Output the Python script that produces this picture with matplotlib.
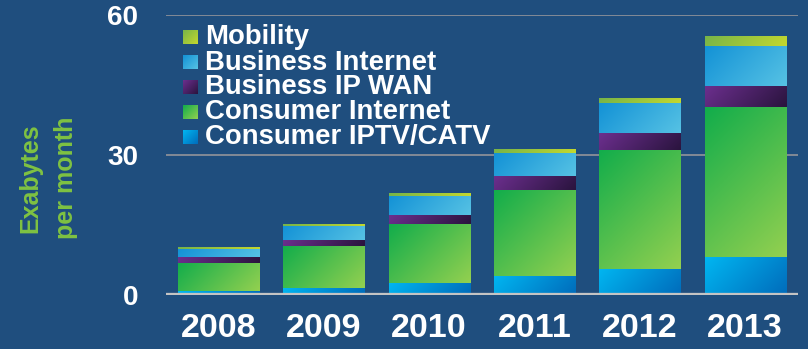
import numpy as np
import matplotlib
matplotlib.use("Agg")
import matplotlib.pyplot as plt
from matplotlib.colors import LinearSegmentedColormap

# Monthly IP traffic by segment, exabytes per month
years = ['2008', '2009', '2010', '2011', '2012', '2013']
consumer_iptv = [0.9, 1.5, 2.6, 4.1, 5.6, 8.1]
consumer_internet = [6.1, 9.0, 12.6, 18.4, 25.5, 32.1]
business_ip_wan = [1.1, 1.3, 1.9, 3.0, 3.6, 4.5]
business_internet = [1.9, 3.0, 4.1, 4.9, 6.4, 8.6]
mobility = [0.4, 0.4, 0.45, 0.65, 1.05, 2.1]

# stacking order bottom -> top
series = [
    ('Consumer IPTV/CATV', consumer_iptv, ('#00b6f1', '#006cbb')),
    ('Consumer Internet', consumer_internet, ('#12ad4b', '#93d050')),
    ('Business IP WAN', business_ip_wan, ('#6c2f8e', '#2a143e')),
    ('Business Internet', business_internet, ('#1392d6', '#56c2e4')),
    ('Mobility', mobility, ('#77b449', '#c4d82e')),
]

bg = '#1f4e7e'
plt.rcParams['font.family'] = ['Liberation Sans', 'DejaVu Sans']
plt.rcParams['font.weight'] = 'bold'

fig = plt.figure(figsize=(8.08, 3.49), dpi=100, facecolor=bg)
ax = fig.add_axes([165.8 / 808, (349 - 295.3) / 349, 632 / 808, 280.3 / 349])
ax.set_facecolor(bg)
x = np.arange(len(years))
ax.set_xlim(-0.5, len(years) - 0.5)
ax.set_ylim(0, 60)
ax.set_autoscale_on(False)


def gradient(ax, x0, y0, w, h, c0, c1, transform=None, z=2):
    # diagonal fill, top-left -> bottom-right, measured in screen pixels
    tr = ax.transData if transform is None else transform
    p0 = tr.transform((x0, y0))
    p1 = tr.transform((x0 + w, y0 + h))
    wpx, hpx = abs(p1[0] - p0[0]), abs(p1[1] - p0[1])
    u = np.linspace(0, 1, 64)
    v = np.linspace(0, 1, 64)
    t = (u[None, :] * wpx + v[:, None] * hpx) / (wpx + hpx)
    cmap = LinearSegmentedColormap.from_list('g', [c0, c1])
    kw = {} if transform is None else {'transform': transform}
    ax.imshow(t, extent=[x0, x0 + w, y0, y0 + h], origin='upper', cmap=cmap,
              vmin=0, vmax=1, aspect='auto', interpolation='bilinear',
              zorder=z, **kw)


bottom = np.zeros(len(years))
for name, vals, (c0, c1) in series:
    bars = ax.bar(x, vals, width=0.77, bottom=bottom, color='none',
                  edgecolor='none', zorder=2)
    for b in bars:
        gradient(ax, b.get_x(), b.get_y(), b.get_width(), b.get_height(), c0, c1)
    bottom += np.array(vals)

ax.set_xlim(-0.5, len(years) - 0.5)
ax.set_ylim(0, 60)

# grid and base line
for yv in [30, 60]:
    ax.axhline(yv, color='#8a8f98', lw=1.3, zorder=1)
ax.axhline(0, color='#c4c4c4', lw=3.8, zorder=5)

for s in ax.spines.values():
    s.set_visible(False)
ax.set_xticks(x)
ax.set_xticklabels(years)
ax.set_yticks([0, 30, 60])
ax.tick_params(axis='x', length=0, pad=13, labelsize=24.5, labelcolor='white')
ax.tick_params(axis='y', length=0, pad=20, labelsize=20, labelcolor='white')
for lab in ax.get_xticklabels() + ax.get_yticklabels():
    lab.set_fontweight('bold')

# axis title, two centred lines
green = '#7fc242'
fig.text(30 / 808, 1 - 178 / 349, 'Exabytes', rotation=90, ha='center',
         va='center', fontsize=18, fontweight='bold', color=green)
fig.text(66 / 808, 1 - 178 / 349, 'per month', rotation=90, ha='center',
         va='center', fontsize=18, fontweight='bold', color=green)

# legend, top entry first
ys = [0.920, 0.830, 0.743, 0.653, 0.563]
for (name, vals, (c0, c1)), yc in zip(series[::-1], ys):
    gradient(ax, 0.027, yc - 0.0232, 0.0225, 0.0464, c0, c1,
             transform=ax.transAxes, z=6)
    ax.text(0.062, yc, name, transform=ax.transAxes, ha='left', va='center',
            fontsize=19.8, fontweight='bold', color='white', zorder=6)

ax.set_xlim(-0.5, len(years) - 0.5)
ax.set_ylim(0, 60)
fig.savefig('out.png', dpi=100, facecolor=bg)
